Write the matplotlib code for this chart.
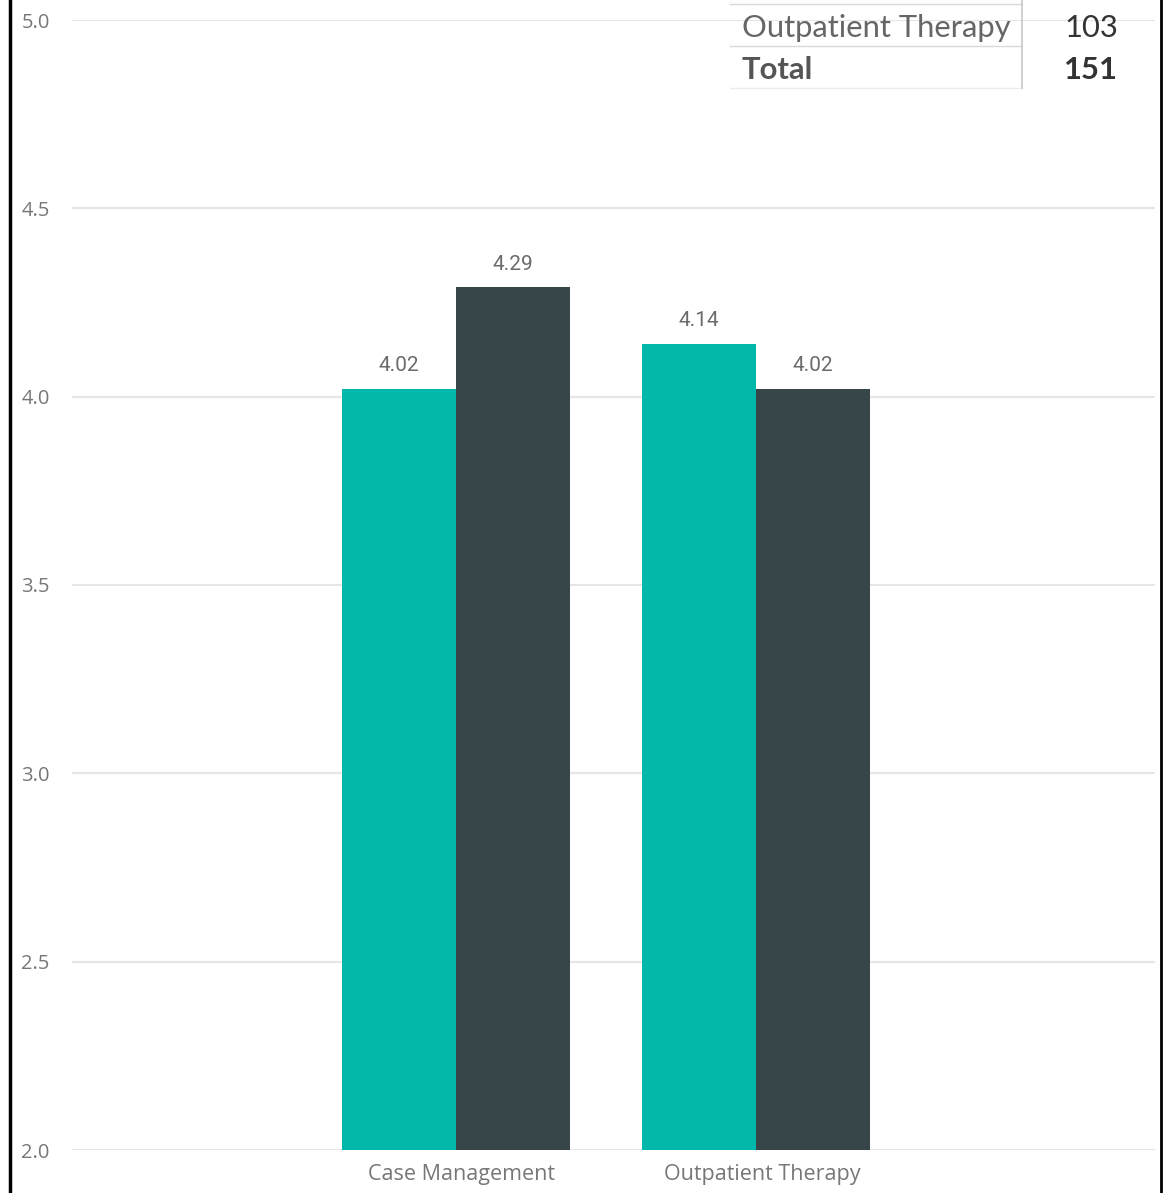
import matplotlib.pyplot as plt
from matplotlib.lines import Line2D
import matplotlib.transforms as mtransforms
import numpy as np

categories = ['Case Management', 'Outpatient Therapy']
series_a = [4.02, 4.14]
series_b = [4.29, 4.02]
table_labels = ['Case Management', 'Outpatient Therapy']
table_values = [48, 103]
table_total = 151

teal = '#01B8AA'
dark = '#374649'

W, H = 1165, 1193
fig = plt.figure(figsize=(W / 100, H / 100), dpi=100)
ax = fig.add_axes([72 / W, 1 - 1150 / H, (1155 - 72) / W, (1150 - 20) / H])

x = np.arange(len(categories))
w = 0.38
b1 = ax.bar(x - w / 2, series_a, w, color=teal, zorder=2)
b2 = ax.bar(x + w / 2, series_b, w, color=dark, zorder=2)
for bars, vals in ((b1, series_a), (b2, series_b)):
    for r, v in zip(bars, vals):
        ax.annotate('%.2f' % v, (r.get_x() + r.get_width() / 2, v),
                    xytext=(0, 10), textcoords='offset points',
                    ha='center', va='bottom', fontsize=15, color='#6b6b6b',
                    family='Roboto')

ax.set_ylim(2.0, 5.0)
ax.set_xlim(-1.28, 2.33)
ax.set_yticks([2.0, 2.5, 3.0, 3.5, 4.0, 4.5, 5.0])
ax.set_yticklabels(['%.1f' % t for t in ax.get_yticks()], family='Open Sans')
ax.set_xticks(x)
ax.set_xticklabels(categories, family='Open Sans')
ax.tick_params(axis='y', length=0, labelsize=14.5, labelcolor='#777777', pad=16)
ax.tick_params(axis='x', length=0, labelsize=15.5, labelcolor='#777777', pad=10)
shift = mtransforms.ScaledTranslation(6 / 100, 0, fig.dpi_scale_trans)
for lbl in ax.get_xticklabels():
    lbl.set_transform(lbl.get_transform() + shift)
ax.grid(axis='y', color='#e6e6e6', linewidth=1.5, zorder=0)
for s in ax.spines.values():
    s.set_visible(False)

# border lines at left and right
fig.add_artist(Line2D([9.5 / W] * 2, [0, 1], color='black', lw=2.5))
fig.add_artist(Line2D([1160.5 / W] * 2, [0, 1], color='black', lw=2))

# table overlay at top right
def fy(py):
    return 1 - py / H

row_centers = [-20, 28, 70]
tfont = ['Lato', 'DejaVu Sans']
for lab, val, yc in zip(table_labels, table_values, row_centers):
    fig.text(742 / W, fy(yc), lab, fontsize=22.3, color='#666666', va='center', family=tfont)
    fig.text(1118 / W, fy(yc), str(val), fontsize=22.3, color='#333333', va='center', ha='right', family=tfont)
fig.text(742 / W, fy(row_centers[2]), 'Total', fontsize=22.3, color='#555555', va='center',
         fontweight='bold', family=tfont)
fig.text(1118 / W, fy(row_centers[2]), str(table_total), fontsize=22.3, color='#333333', va='center',
         ha='right', fontweight='bold', family=tfont)
for py, c in ((4, '#d9d9d9'), (46, '#d9d9d9'), (88, '#ededed')):
    fig.add_artist(Line2D([730 / W, 1022 / W], [fy(py)] * 2, color=c, lw=1))
fig.add_artist(Line2D([1022 / W] * 2, [fy(0), fy(88)], color='#c8c8c8', lw=1.2))

fig.savefig('out.png', dpi=100)
